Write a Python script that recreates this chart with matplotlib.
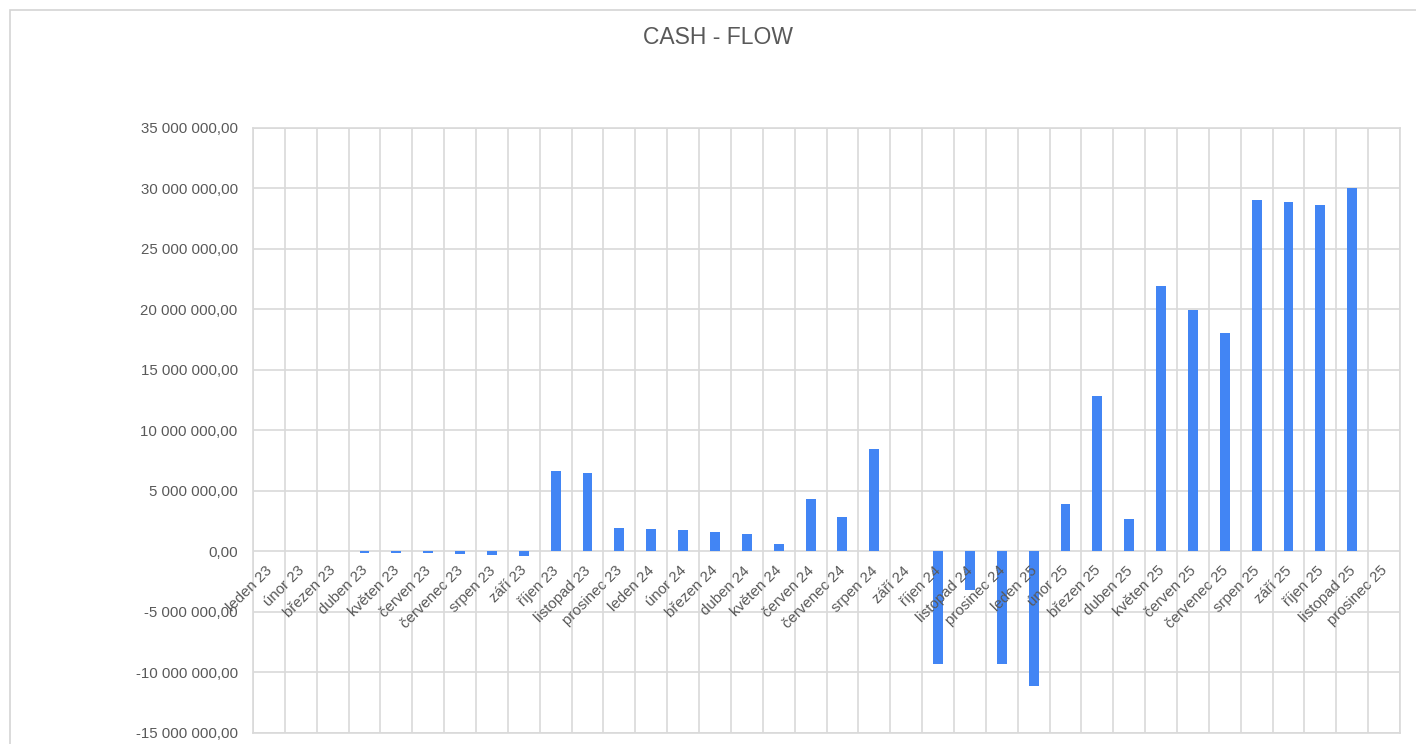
import matplotlib
matplotlib.use("Agg")
import matplotlib.pyplot as plt
from matplotlib.patches import Rectangle
import numpy as np

months = ["leden", "únor", "březen", "duben", "květen", "červen", "červenec",
          "srpen", "září", "říjen", "listopad", "prosinec"]
years = ["23", "24", "25"]
categories = [f"{m} {y}" for y in years for m in months]

values = [
    0, 0, 0, -100000, -170000, -170000, -250000, -300000, -400000, 6650000, 6510000, 1930000,
    1880000, 1740000, 1600000, 1460000, 610000, 4300000, 2870000, 8500000, 0, -9270000, -3150000, -9270000,
    -11100000, 3890000, 12800000, 2650000, 21940000, 19950000, 18020000, 29060000, 28860000, 28640000, 30050000, 0,
]

y_ticks = [-15e6, -10e6, -5e6, 0, 5e6, 10e6, 15e6, 20e6, 25e6, 30e6, 35e6]

title = "CASH - FLOW"

plt.rcParams['font.family'] = ['Liberation Sans', 'DejaVu Sans']

W, H = 1416, 744
fig = plt.figure(figsize=(W / 100, H / 100), dpi=100)
fig.patch.set_facecolor("white")

# outer chart border
fig.add_artist(Rectangle((10 / W, -0.05), 1.2, (H - 10) / H + 0.05,
                         transform=fig.transFigure, fill=False,
                         edgecolor="#d4d4d4", linewidth=1.2))

ax = fig.add_axes([253 / W, (H - 733) / H, (1400 - 253) / W, (733 - 127.7) / H])

text_color = "#595959"
grid_color = "#d9d9d9"
bar_color = "#4285f4"

x = np.arange(len(categories))
ax.bar(x, values, width=0.31, color=bar_color, zorder=3)

ax.set_xlim(-0.5, len(categories) - 0.5)
ax.set_ylim(y_ticks[0], y_ticks[-1])
ax.set_yticks(y_ticks)
ax.set_yticklabels([f"{v:,.2f}".replace(",", " ").replace(".", ",") for v in y_ticks],
                   fontsize=10.8, color=text_color)
ax.tick_params(axis="y", length=0, pad=11)

ax.set_xticks([])
ax.set_xticks(np.arange(len(categories) + 1) - 0.5, minor=True)
ax.tick_params(axis="x", which="both", length=0, labelbottom=False)

ax.grid(axis="y", which="major", color=grid_color, linewidth=1.2, zorder=0)
ax.grid(axis="x", which="minor", color=grid_color, linewidth=1.2, zorder=0)
for s in ax.spines.values():
    s.set_color(grid_color)
    s.set_linewidth(1.2)

for xi, label in zip(x, categories):
    ax.annotate(label, xy=(xi, 0), xytext=(-4, -12), textcoords="offset pixels",
                rotation=45, rotation_mode="anchor", ha="right", va="top",
                fontsize=10.8, color=text_color, zorder=4)

fig.text(718 / W, 1 - 37 / H, title, ha="center", va="center",
         fontsize=16.5, color=text_color)

fig.savefig("out.png", dpi=100)
